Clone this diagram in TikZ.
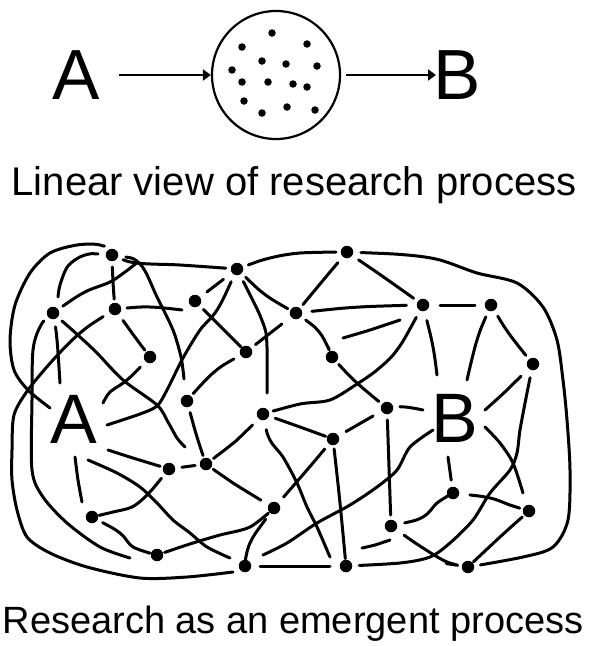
\documentclass[tikz,border=0pt]{standalone}
\usepackage{fontspec}
\setmainfont{Liberation Sans}
\usetikzlibrary{arrows.meta}
\tikzset{
  wire/.style={line width=3pt, line cap=round, line join=round},
  ga/.style={shorten <=#1}, ga/.default=12pt,
  gb/.style={shorten >=#1}, gb/.default=12pt,
  dot/.style={circle, fill=black, inner sep=0pt, minimum size=12.5pt},
  sdot/.style={circle, fill=black, inner sep=0pt, minimum size=7.5pt},
  bigletter/.style={font=\fontsize{71}{71}\selectfont, inner sep=0pt, anchor=base},
  caption/.style={font=\fontsize{40}{40}\selectfont, inner sep=0pt, anchor=base},
  arr/.style={line width=2.4pt, -{Triangle[length=8pt,width=11pt]}},
}
\begin{document}
\begin{tikzpicture}[x=1pt, y=-1pt]
\useasboundingbox (0,0) rectangle (595,646);
% ---------- top: linear view ----------
\node[bigletter] (Atop) at (76.5,99) {A};
\node[bigletter] (Btop) at (457,99) {B};
\node[circle, draw, line width=2.2pt, minimum size=128pt, inner sep=0pt] (C) at (276,75) {};
\draw[arr] (119,75) -- (C.west);
\draw[arr] (C.east) ++(5,0) -- (436,75);
\foreach \p in {(272,33),(242,47),(307,44),(262,61),(286,64),(317,66),(232,70),
  (242,82),(268,82),(293,84),(307,87),(244,101),(287,107),(262,113),(315,110)}
  \node[sdot] at \p {};
\node[caption] (cap1) at (294,195) {Linear view of research process};
% ---------- bottom: emergent process ----------
\node[bigletter, font=\fontsize{70}{70}\selectfont] (A) at (74,443) {A};
\node[bigletter, font=\fontsize{70}{70}\selectfont] (B) at (455,442) {B};
\coordinate (n1) at (112,255);
\coordinate (n2) at (237,269);
\coordinate (n3) at (347,252);
\coordinate (n4) at (53,313);
\coordinate (n5) at (115,309);
\coordinate (n6) at (195,301);
\coordinate (n7) at (296,313);
\coordinate (n8) at (423,305);
\coordinate (n9) at (491,305);
\coordinate (n10) at (150,357);
\coordinate (n11) at (246,352);
\coordinate (n12) at (332,357);
\coordinate (n13) at (533,364);
\coordinate (n14) at (187,401);
\coordinate (n15) at (263,414);
\coordinate (n16) at (387,408);
\coordinate (n17) at (333,439);
\coordinate (n18) at (169,469);
\coordinate (n19) at (206,464);
\coordinate (n20) at (453,493);
\coordinate (n21) at (92,517);
\coordinate (n22) at (274,508);
\coordinate (n23) at (391,526);
\coordinate (n24) at (529,511);
\coordinate (n25) at (157,555);
\coordinate (n26) at (245,566);
\coordinate (n27) at (346,566);
\coordinate (n28) at (468,567);
\begin{scope}[wire]
\draw[ga,gb=14pt] plot[smooth] coordinates {(n1) (137,263) (180,265) (n2)};
\draw[ga] plot[smooth] coordinates {(n4) (85,292) (112,281) (138,262)};
\draw[ga,gb=16pt] plot[smooth] coordinates {(n1) (113,282) (n5)};
\draw[ga=14pt] plot[smooth] coordinates {(n1) (140,264) (157,297) (173,330) (181,357) (184,379)};
\draw[ga] plot[smooth] coordinates {(n1) (100,245) (77,245) (50,253) (30,273) (15,305) (10,340) (14,370) (28,390) (50,408)};
\draw[ga=14pt] plot[smooth] coordinates {(n1) (85,255) (68,266) (60,285) (58,297)};
\draw[ga=14pt] plot[smooth] coordinates {(n4) (57,340) (60,383)};
\draw[ga] plot[smooth] coordinates {(n4) (80,337) (97,353) (123,380) (157,405) (168,422) (177,438) (185,447)};
\draw[ga] plot[smooth] coordinates {(n4) (40,327) (33,350) (32,400) (32,470) (43,497) (67,523) (100,547) (130,558)};
\draw[ga=14pt] plot[smooth] coordinates {(n5) (80,333) (53,360) (28,390) (14,415) (12,450) (12,480) (17,510) (27,537) (50,553) (87,567) (140,578) (187,577) (233,572)};
\draw[ga] plot[smooth] coordinates {(n5) (150,307) (182,310)};
\draw[ga=14pt,gb] plot[smooth] coordinates {(n5) (132,333) (n10)};
\draw[ga=17pt,gb=15pt] plot coordinates {(n2) (n6)};
\draw[ga=14pt] plot[smooth] coordinates {(n2) (217,310) (200,330) (183,358) (167,390) (157,406) (140,414) (107,425)};
\draw[ga,gb=13pt] plot[smooth] coordinates {(n2) (267,296) (n7)};
\draw[ga=14pt] plot[smooth] coordinates {(n2) (263,323) (267,347) (267,393)};
\draw[ga,gb=14pt] plot[smooth] coordinates {(n2) (270,258) (300,253) (n3)};
\draw[ga,gb=10pt] plot[smooth] coordinates {(n6) (227,333) (n11)};
\draw[ga=14pt,gb=14pt] plot[smooth] coordinates {(n3) (325,278) (n7)};
\draw[ga=14pt,gb=15pt] plot[smooth] coordinates {(n3) (385,278) (n8)};
\draw[ga=14pt,gb=16pt] plot[smooth] coordinates {(n3) (407,255) (440,260) (477,273) (517,283) (543,307) (557,340) (563,380) (567,420) (570,470) (568,520) (553,547) (523,557) (n28)};
\draw[ga=16pt,gb=22pt] plot[smooth] coordinates {(n7) (360,307) (n8)};
\draw[ga=18pt,gb=12pt] plot coordinates {(n7) (n11)};
\draw[ga,gb=11pt] plot[smooth] coordinates {(n7) (320,333) (n12)};
\draw[ga=17pt,gb=16pt] plot coordinates {(n8) (n9)};
\draw plot[smooth] coordinates {(400,320) (370,330) (343,338)};
\draw[ga=14pt,gb=14pt] plot[smooth] coordinates {(n8) (397,350) (377,370) (357,384) (330,400) (300,404) (n15)};
\draw[ga=16pt] plot[smooth] coordinates {(n8) (433,347) (437,375)};
\draw[ga=13pt] plot[smooth] coordinates {(n9) (477,340) (467,380)};
\draw[ga=13pt,gb=16pt] plot[smooth] coordinates {(n9) (510,335) (n13)};
\draw[ga=14pt] plot[smooth] coordinates {(n10) (127,380) (110,392) (103,403)};
\draw[ga=14pt,gb=13pt] plot[smooth] coordinates {(n11) (213,373) (n14)};
\draw[ga=10pt,gb=14pt] plot[smooth] coordinates {(n12) (357,383) (n16)};
\draw[ga=17pt] plot[smooth] coordinates {(n13) (507,390) (485,410)};
\draw[ga=14pt,gb=17pt] plot[smooth] coordinates {(n13) (527,393) (520,430) (517,453) (510,470) (490,493) (473,520) (450,543) (430,557) (400,563) (n27)};
\draw plot[smooth] coordinates {(485,427) (500,443) (513,463) (523,493)};
\draw plot[smooth] coordinates {(433,430) (410,447) (397,470) (377,487) (350,505) (317,523) (287,543) (263,555)};
\draw[gb=13pt] plot coordinates {(448,457) (n20)};
\draw[ga=13pt] plot[smooth] coordinates {(n16) (405,407) (423,410)};
\draw[ga,gb=14pt] plot[smooth] coordinates {(n14) (197,437) (n19)};
\draw[ga=13pt,gb=10pt] plot[smooth] coordinates {(n15) (300,427) (n17)};
\draw[ga=15pt,gb] plot[smooth] coordinates {(n15) (237,440) (n19)};
\draw[ga=16pt] plot[smooth] coordinates {(n15) (270,440) (283,457) (297,483) (307,507) (317,527) (330,557)};
\draw[ga=16pt,gb=15pt] plot coordinates {(n16) (n17)};
\draw[ga,gb=11pt] plot coordinates {(n16) (n23)};
\draw[ga=13pt,gb=20pt] plot[smooth] coordinates {(n17) (307,470) (n22)};
\draw[ga=10pt,gb=8pt] plot[smooth] coordinates {(n17) (340,503) (n27)};
\draw[ga=13pt,gb=11pt] plot coordinates {(n18) (n19)};
\draw[gb] plot[smooth] coordinates {(108,450) (133,458) (n18)};
\draw[ga,gb=11pt] plot[smooth] coordinates {(n18) (147,495) (132,507) (113,512) (n21)};
\draw[ga=9pt,gb=22pt] plot[smooth] coordinates {(n19) (233,483) (n22)};
\draw plot[smooth] coordinates {(75,457) (78,480) (82,502)};
\draw plot[smooth] coordinates {(88,460) (117,473) (140,487) (157,503) (173,520) (190,533) (207,547) (230,558)};
\draw[ga,gb=10pt] plot[smooth] coordinates {(n21) (120,533) (133,547) (n25)};
\draw[ga=8pt,gb=10pt] plot[smooth] coordinates {(n25) (193,543) (220,535) (250,527) (n22)};
\draw[ga=14pt,gb=8pt] plot[smooth] coordinates {(n22) (250,543) (n26)};
\draw[ga=15pt,gb=16pt] plot coordinates {(n26) (n27)};
\draw[ga=14pt,gb=9pt] plot[smooth] coordinates {(n23) (423,517) (437,503) (n20)};
\draw plot[smooth] coordinates {(390,540) (375,545) (362,548)};
\draw[ga=16pt,gb=22pt] plot[smooth] coordinates {(n23) (423,548) (447,562) (n28)};
\draw[ga=17pt,gb=20pt] plot[smooth] coordinates {(n20) (490,498) (510,505) (n24)};
\draw[ga=9pt,gb=9pt] plot[smooth] coordinates {(n24) (500,537) (n28)};
\end{scope}
\foreach \i in {1,...,28} \node[dot] (d\i) at (n\i) {};
\node[caption, font=\fontsize{38}{38}\selectfont] (cap2) at (293,633) {Research as an emergent process};
\end{tikzpicture}
\end{document}
